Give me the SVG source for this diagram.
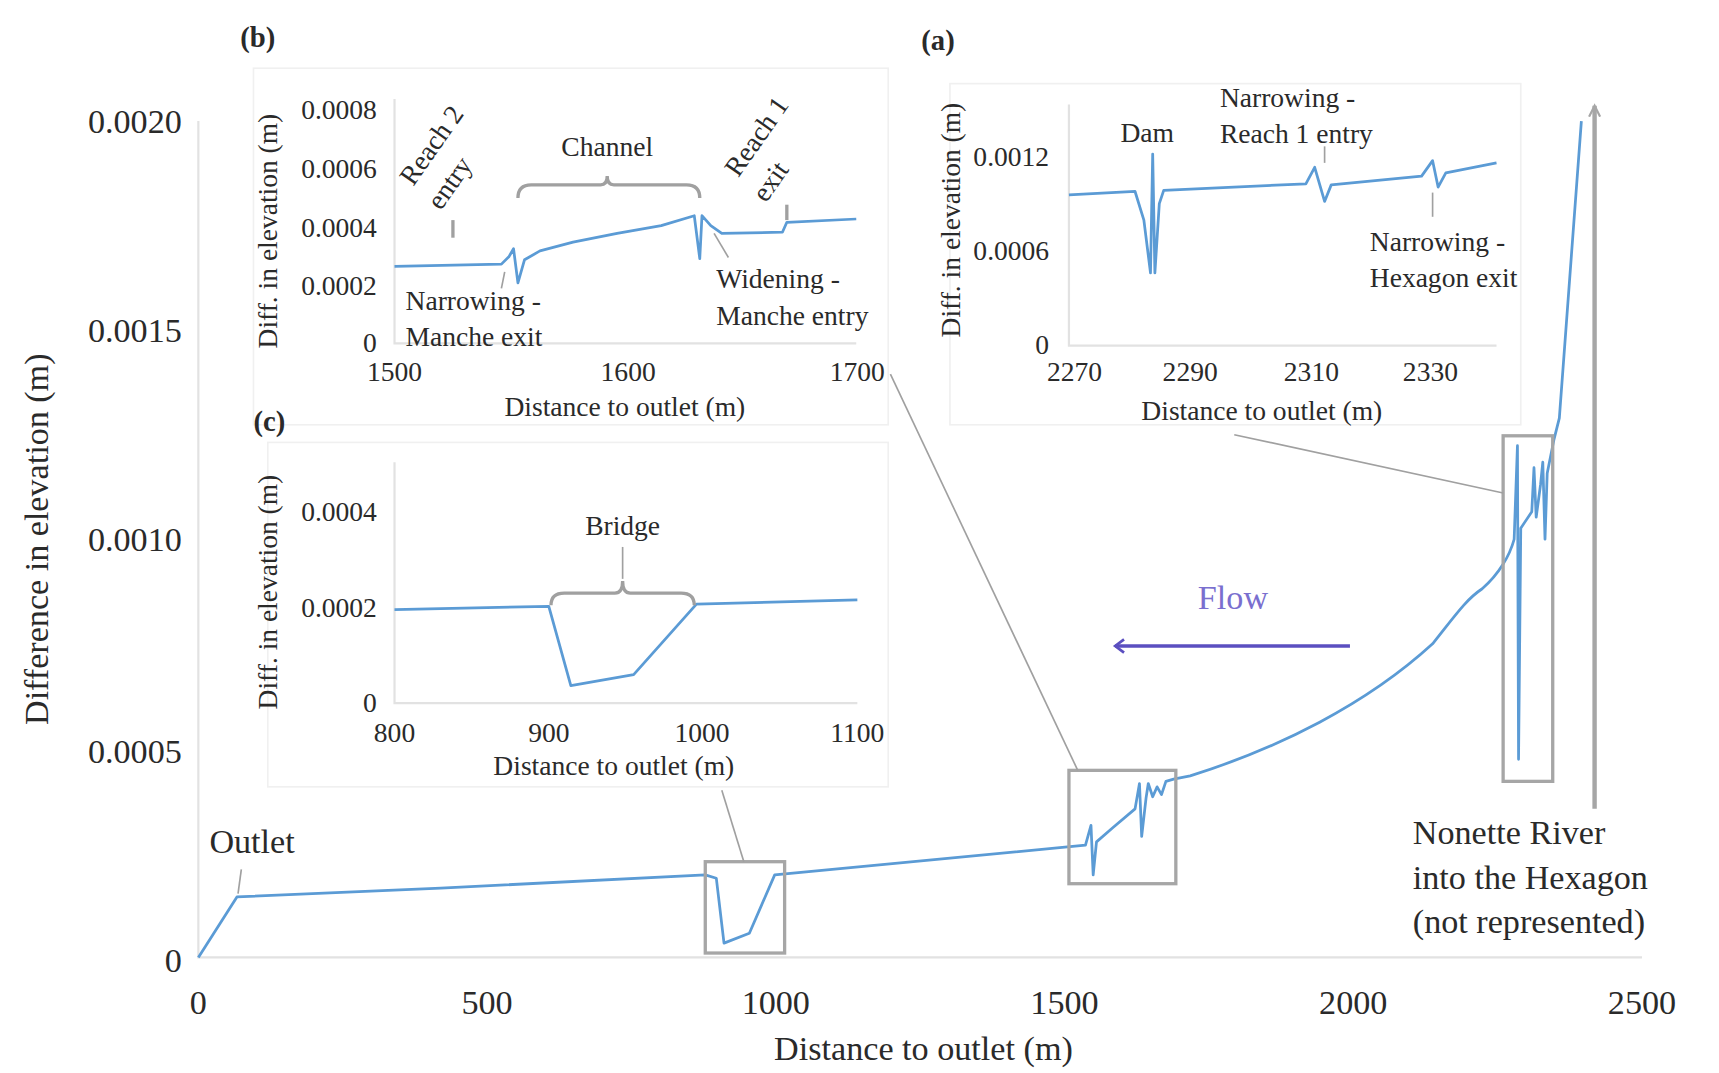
<svg xmlns="http://www.w3.org/2000/svg" width="1719" height="1073" viewBox="0 0 1719 1073">
<defs>
<style>
text{font-family:"Liberation Serif","DejaVu Serif",serif;fill:#2a2a2a}
.big{font-size:31px}
.mid{font-size:25px}
.lab{font-size:26px;font-weight:bold}
.r{text-anchor:end}
.c{text-anchor:middle}
.ax{stroke:#e2e2e2;stroke-width:2;fill:none}
.curve{stroke:#5b9bd5;stroke-width:2.5;fill:none;stroke-linejoin:round}
.gbox{stroke:#a6a6a6;stroke-width:3;fill:none}
.lead{stroke:#a0a0a0;stroke-width:1.5;fill:none}
.tick{stroke:#a0a0a0;stroke-width:3;fill:none}
.panel{fill:#fff;stroke:#f0f0f0;stroke-width:1.5}
</style>
<marker id="ga" markerWidth="12" markerHeight="12" refX="10" refY="6" orient="auto" markerUnits="userSpaceOnUse"><path d="M0,1 L10,6 L0,11" fill="none" stroke="#a6a6a6" stroke-width="2"/></marker>
<marker id="pa" markerWidth="14" markerHeight="14" refX="10" refY="7" orient="auto" markerUnits="userSpaceOnUse"><path d="M2,1 L10,7 L2,13" fill="none" stroke="#5b4fc0" stroke-width="2.5"/></marker>
</defs>
<rect width="1719" height="1073" fill="#fff"/>
<g transform="scale(1.102,1.1005)">
<g id="main-axes">
<path class="ax" d="M180,110 V870 H1490"/>
<text class="big r" x="165" y="121">0.0020</text>
<text class="big r" x="165" y="311">0.0015</text>
<text class="big r" x="165" y="501">0.0010</text>
<text class="big r" x="165" y="693">0.0005</text>
<text class="big r" x="165" y="883">0</text>
<text class="big c" x="180" y="921">0</text>
<text class="big c" x="442" y="921">500</text>
<text class="big c" x="704" y="921">1000</text>
<text class="big c" x="966" y="921">1500</text>
<text class="big c" x="1228" y="921">2000</text>
<text class="big c" x="1490" y="921">2500</text>
<text class="big c" x="838" y="963">Distance to outlet (m)</text>
<text class="big c" transform="translate(44,490) rotate(-90)">Difference in elevation (m)</text>
</g>
<g id="main-curve">
<path class="curve" d="M180,870 L215,815 L400,807 L640,795 L650,798 L657,857 L680,848 L703,795 L985,768 L990,750 L992,795 L995,765 L1010,752 L1030,735 L1034,712 L1036,760 L1040,725 L1042,712 L1046,724 L1050,715 L1054,722 L1058,710 L1065,708 L1080,705 C1160,680 1240,640 1300,585 C1320,560 1330,545 1345,535 C1360,522 1370,505 1374,490 L1377,405 L1378,690 L1380,480 L1390,465 L1392,425 L1394,470 L1398,440 L1400,420 L1402,490 L1404,430 L1410,400 L1415,380 L1435,110"/>
</g>
<g id="boxes">
<rect class="gbox" x="640" y="783" width="72" height="83"/>
<rect class="gbox" x="970" y="700" width="97" height="103"/>
<rect class="gbox" x="1364" y="396" width="45" height="314"/>
</g>
<g id="connectors">
<line class="lead" x1="808" y1="340" x2="978" y2="700"/>
<line class="lead" x1="1120" y1="395" x2="1364" y2="448"/>
<line class="lead" x1="655" y1="718" x2="675" y2="783"/>
<line class="lead" x1="219" y1="790" x2="216" y2="812"/>
<line x1="1447" y1="735" x2="1447" y2="96" stroke="#a6a6a6" stroke-width="4" marker-end="url(#ga)"/>
<line x1="1225" y1="587" x2="1012" y2="587" stroke="#5b4fc0" stroke-width="3" marker-end="url(#pa)"/>
</g>
<g id="labels">
<text class="big" x="1087" y="553" style="fill:#7a6fcf">Flow</text>
<text class="big" x="190" y="775">Outlet</text>
<text class="big" x="1282" y="767">Nonette River</text>
<text class="big" x="1282" y="808">into the Hexagon</text>
<text class="big" x="1282" y="848">(not represented)</text>
</g>
<g id="panel-b">
<rect class="panel" x="230" y="62" width="576" height="324"/>
<text class="lab" x="218" y="43">(b)</text>
<path class="ax" d="M358,90 V312 H777"/>
<text class="mid c" transform="translate(251,210) rotate(-90)">Diff. in elevation (m)</text>
<text class="mid r" x="342" y="108">0.0008</text>
<text class="mid r" x="342" y="162">0.0006</text>
<text class="mid r" x="342" y="215">0.0004</text>
<text class="mid r" x="342" y="268">0.0002</text>
<text class="mid r" x="342" y="320">0</text>
<text class="mid c" x="358" y="346">1500</text>
<text class="mid c" x="570" y="346">1600</text>
<text class="mid c" x="778" y="346">1700</text>
<text class="mid c" x="567" y="378">Distance to outlet (m)</text>
<path class="curve" d="M358,242 L455,240 L462,233 L466,226 L470,257 L476,236 L490,228 L520,220 L560,212 L600,205 L630,196 L635,235 L637,196 L645,205 L655,212 L710,211 L714,202 L777,199"/>
<path class="tick" d="M470,180 Q470,168 482,168 L545,168 Q551,168 551,160 Q551,168 557,168 L623,168 Q635,168 635,180"/>
<text class="mid c" x="551" y="142">Channel</text>
<text class="mid" transform="translate(375,170) rotate(-55)">Reach 2</text>
<text class="mid" transform="translate(400,192) rotate(-55)">entry</text>
<text class="mid" transform="translate(670,162) rotate(-55)">Reach 1</text>
<text class="mid" transform="translate(695,185) rotate(-55)">exit</text>
<line class="tick" x1="411" y1="200" x2="411" y2="216"/>
<line class="tick" x1="714" y1="186" x2="714" y2="200"/>
<line class="lead" x1="458" y1="247" x2="455" y2="262"/>
<line class="lead" x1="648" y1="212" x2="661" y2="234"/>
<text class="mid" x="368" y="282">Narrowing -</text>
<text class="mid" x="368" y="314">Manche exit</text>
<text class="mid" x="650" y="262">Widening -</text>
<text class="mid" x="650" y="295">Manche entry</text>
</g>
<g id="panel-a">
<rect class="panel" x="862" y="76" width="518" height="310"/>
<text class="lab" x="836" y="45">(a)</text>
<path class="ax" d="M970,95 V314 H1358"/>
<text class="mid c" transform="translate(871,200) rotate(-90)">Diff. in elevation (m)</text>
<text class="mid r" x="952" y="151">0.0012</text>
<text class="mid r" x="952" y="236">0.0006</text>
<text class="mid r" x="952" y="322">0</text>
<text class="mid c" x="975" y="346">2270</text>
<text class="mid c" x="1080" y="346">2290</text>
<text class="mid c" x="1190" y="346">2310</text>
<text class="mid c" x="1298" y="346">2330</text>
<text class="mid c" x="1145" y="382">Distance to outlet (m)</text>
<path class="curve" d="M970,177 L1030,174 L1038,200 L1044,248 L1046,140 L1048,248 L1052,185 L1056,173 L1100,171 L1185,167 L1193,152 L1202,183 L1208,168 L1290,160 L1300,146 L1305,170 L1312,157 L1358,148"/>
<text class="mid c" x="1041" y="129">Dam</text>
<text class="mid" x="1107" y="97">Narrowing -</text>
<text class="mid" x="1107" y="130">Reach 1 entry</text>
<line class="lead" x1="1202" y1="133" x2="1202" y2="148"/>
<line class="lead" x1="1300" y1="175" x2="1300" y2="197"/>
<text class="mid" x="1243" y="228">Narrowing -</text>
<text class="mid" x="1243" y="261">Hexagon exit</text>
</g>
<g id="panel-c">
<rect class="panel" x="243" y="402" width="563" height="313"/>
<text class="lab" x="230" y="392">(c)</text>
<path class="ax" d="M358,420 V639 H778"/>
<text class="mid c" transform="translate(251,538) rotate(-90)">Diff. in elevation (m)</text>
<text class="mid r" x="342" y="473">0.0004</text>
<text class="mid r" x="342" y="561">0.0002</text>
<text class="mid r" x="342" y="647">0</text>
<text class="mid c" x="358" y="674">800</text>
<text class="mid c" x="498" y="674">900</text>
<text class="mid c" x="637" y="674">1000</text>
<text class="mid c" x="778" y="674">1100</text>
<text class="mid c" x="557" y="704">Distance to outlet (m)</text>
<path class="curve" d="M358,554 L498,551 L518,623 L575,613 L632,549 L778,545"/>
<path class="tick" d="M500,550 Q500,539 512,539 L558,539 Q565,539 565,528 Q565,539 572,539 L618,539 Q630,539 630,550"/>
<line class="lead" x1="565" y1="497" x2="565" y2="526"/>
<text class="mid c" x="565" y="486">Bridge</text>
</g>
</g>
</svg>
